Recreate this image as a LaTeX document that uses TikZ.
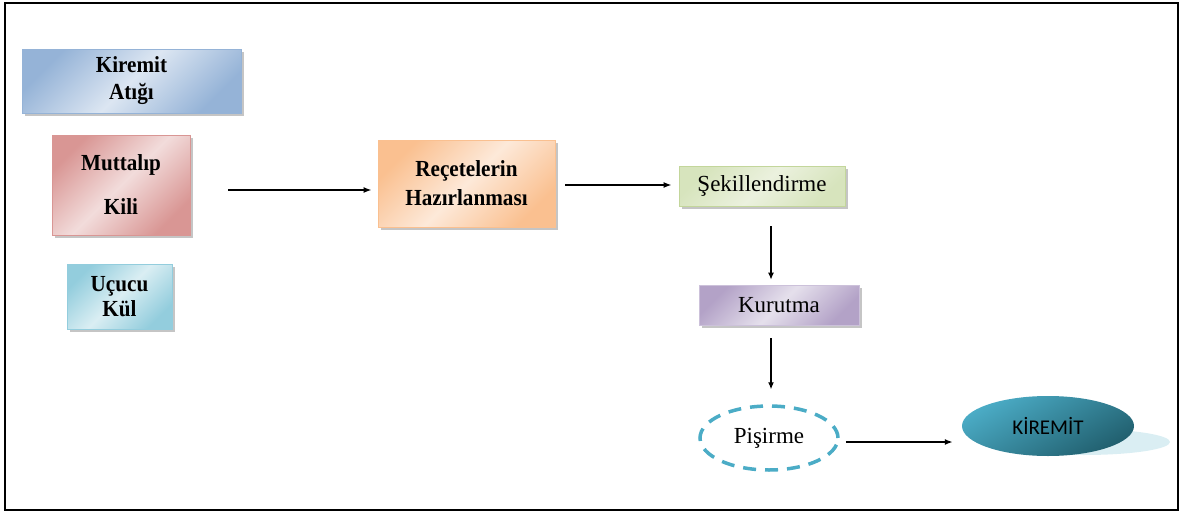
\documentclass[tikz,border=0pt]{standalone}
\usepackage{fontspec}
\setmainfont{Liberation Serif}[BoldFeatures={FakeStretch=0.92}]
\newfontfamily\calib{Carlito}
\usetikzlibrary{shapes.geometric,shadows,arrows.meta}
\definecolor{bluL}{HTML}{DCE6F2}\definecolor{bluD}{HTML}{95B3D7}
\definecolor{pnkL}{HTML}{F2DCDB}\definecolor{pnkD}{HTML}{D99694}
\definecolor{cyaL}{HTML}{DAEEF3}\definecolor{cyaD}{HTML}{93CDDD}
\definecolor{orgL}{HTML}{FDE9D9}\definecolor{orgD}{HTML}{FAC090}
\definecolor{grnL}{HTML}{EBF1DE}\definecolor{grnD}{HTML}{D7E4BD}\definecolor{grnB}{HTML}{C3D69B}
\definecolor{purL}{HTML}{E5E0EC}\definecolor{purD}{HTML}{B3A2C7}\definecolor{purB}{HTML}{CCC1DA}
\definecolor{teal1}{HTML}{4BACC6}\definecolor{teal2}{HTML}{215F6E}
\definecolor{refl}{HTML}{DAEEF3}
\tikzset{
  boxbase/.style={rectangle, inner sep=0pt, align=center, line width=0.8pt,
    drop shadow={shadow xshift=2.5pt, shadow yshift=-2.5pt, fill=black!45, opacity=0.5}},
  grad/.style n args={3}{boxbase, draw=#3, left color=#2, right color=#2, middle color=#1, shading angle=45},
  boldtxt/.style={font=\fontsize{23}{26}\selectfont\bfseries},
  regtxt/.style={font=\fontsize{23}{27}\selectfont},
  arr/.style={line width=1.6pt, -{Latex[length=8pt,width=6pt]}},
  varr/.style={line width=1.1pt, -{Latex[length=7pt,width=6pt]}},
}
\begin{document}
\begin{tikzpicture}[x=1pt,y=-1pt]
\useasboundingbox (0,0) rectangle (1184,514);
\draw[line width=2pt] (5,3) rectangle (1178,510);

\node[grad={bluL}{bluD}{bluD}, boldtxt, minimum width=219pt, minimum height=64pt] (ka) at (131.5,81) {Kiremit\\[1pt]Atığı};
\node[grad={pnkL}{pnkD}{pnkD}, boldtxt, minimum width=138pt, minimum height=100pt] (mk) at (121,185) {Muttalıp\\[18pt]Kili};
\node[grad={cyaL}{cyaD}{cyaD}, boldtxt, minimum width=105pt, minimum height=65pt] (uk) at (119.5,296.5) {Uçucu\\[-1pt]Kül};
\node[grad={orgL}{orgD}{orgD}, boldtxt, minimum width=177pt, minimum height=87pt] (rh) at (466.5,183.5) {Reçetelerin\\[3pt]Hazırlanması};
\node[grad={grnL}{grnD}{grnB}, regtxt, minimum width=166pt, minimum height=40pt] (sk) at (762,186) {Şekillendirme};
\node[grad={purL}{purD}{purB}, regtxt, minimum width=160pt, minimum height=40pt] (ku) at (779,305) {Kurutma};

\node[ellipse, draw=teal1, line width=3.5pt, dash pattern=on 13pt off 9pt, fill=white,
      minimum width=138pt, minimum height=64pt, inner sep=0pt, regtxt] (pi) at (769,438) {Pişirme};

\fill[refl] (1084,442) ellipse [x radius=86pt, y radius=13pt];
\node[ellipse, top color=teal1, bottom color=teal2, shading angle=30, minimum width=172pt, minimum height=60pt,
      inner sep=0pt, font=\calib\fontsize{21}{25}\selectfont] (kr) at (1048,426) {KİREMİT};

\draw[arr, shorten <=38pt, shorten >=6pt] (mk.east |- 0,190) -- (rh.west |- 0,190);
\draw[arr, shorten <=10pt, shorten >=7pt] (rh.east |- 0,185) -- (sk.west |- 0,185);
\draw[varr, shorten <=20pt, shorten >=5pt] (771,0 |- sk.south) -- (771,0 |- ku.north);
\draw[varr, shorten <=13pt, shorten >=15pt] (771,0 |- ku.south) -- (771,0 |- pi.north);
\draw[arr, shorten <=6pt, shorten >=9pt] (pi.east |- 0,442) -- (kr.west |- 0,442);
\end{tikzpicture}
\end{document}
